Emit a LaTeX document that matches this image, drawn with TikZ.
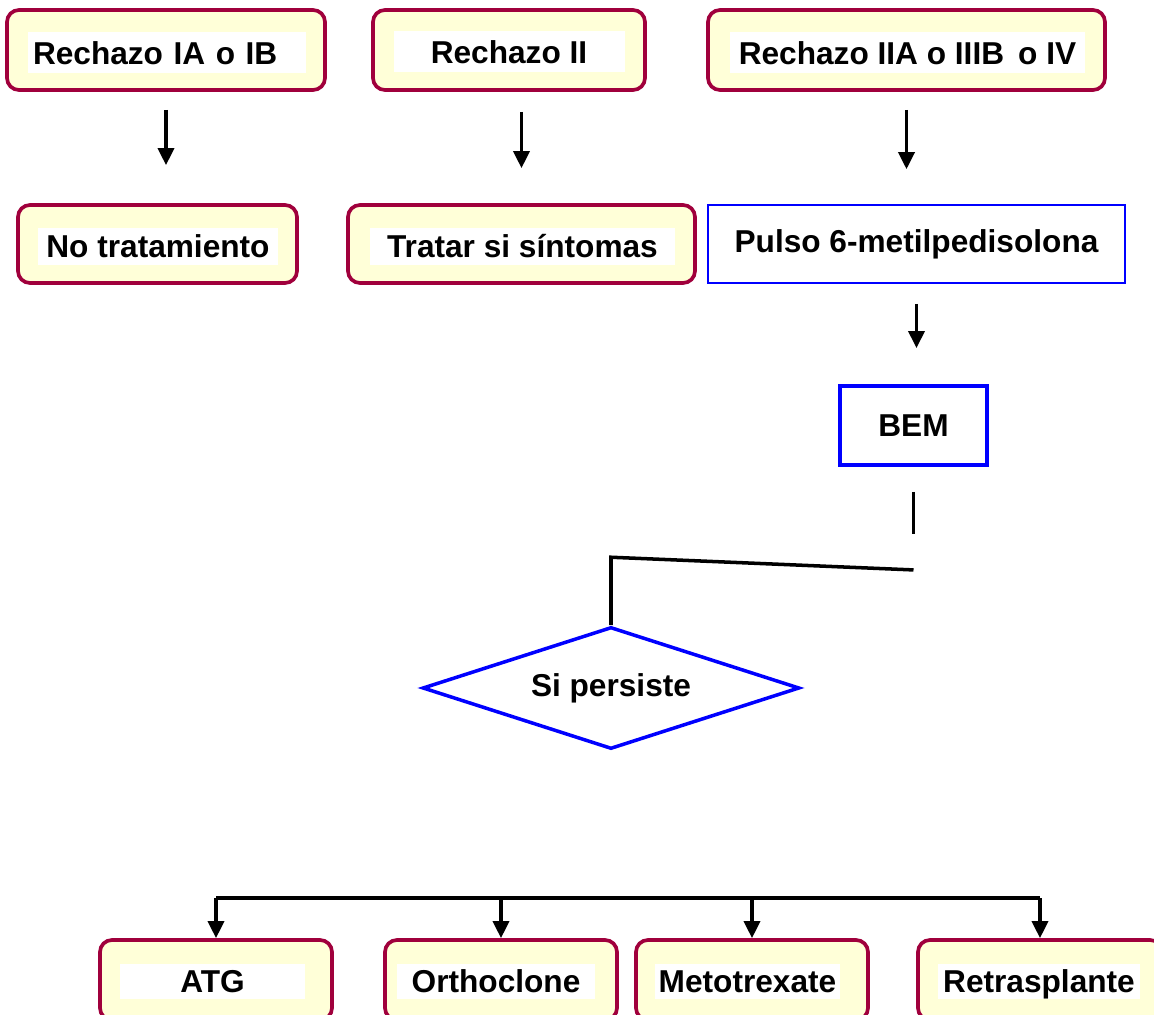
\documentclass[tikz,border=0pt]{standalone}
\usepackage{fontspec}
\setmainfont{Liberation Sans}
\usepackage{tikz}
\usetikzlibrary{arrows.meta,positioning,shapes.geometric}
\definecolor{rejMaroon}{HTML}{A0003C}
\definecolor{paleYellow}{HTML}{FFFFD8}
\definecolor{flowBlue}{HTML}{0000FF}

\begin{document}
\begin{tikzpicture}[
        yellowbox/.style={draw=rejMaroon, line width=2.1pt, rounded corners=0.24cm, fill=paleYellow,
                          minimum height=1.6cm, inner sep=0pt},
        tagtext/.style={fill=white, inner sep=0pt, minimum height=0.82cm,
                        font=\bfseries\fontsize{18}{21}\selectfont},
        thinblue/.style={draw=flowBlue, line width=0.9pt, minimum height=1.56cm,
                         font=\bfseries\fontsize{18}{21}\selectfont},
        thickblue/.style={draw=flowBlue, line width=2.2pt, minimum height=1.58cm,
                          font=\bfseries\fontsize{18}{21}\selectfont},
        decision/.style={diamond, draw=flowBlue, line width=2pt, aspect=3.1, inner sep=0pt,
                         minimum width=7.54cm, minimum height=2.44cm,
                         font=\bfseries\fontsize{18}{21}\selectfont},
        arr/.style={-{Triangle[length=0.34cm, width=0.32cm]}, line width=2pt},
        ln/.style={line width=2pt}
    ]
        \useasboundingbox (0,0) rectangle (23.08,-20.3);
        \clip (0,0) rectangle (23.08,-20.3);

        % rechazo grades
        \node[yellowbox, minimum width=6.36cm] (rech1) at (3.32,-1.0) {};
        \node[tagtext, text width=5.36cm, align=left, inner xsep=0.1cm] (rech1txt) at (3.34,-1.06) {Rechazo IA o IB};
        \node[yellowbox, minimum width=5.44cm] (rech2) at (10.18,-1.0) {};
        \node[tagtext, minimum width=4.62cm] (rech2txt) at (10.18,-1.04) {Rechazo II};
        \node[yellowbox, minimum width=7.94cm] (rech3) at (18.13,-1.0) {};
        \node[tagtext, minimum width=7.1cm] (rech3txt) at (18.15,-1.06) {Rechazo IIA o IIIB\, o IV};

        % treatment
        \node[yellowbox, minimum width=5.58cm, minimum height=1.56cm] (notrat) at (3.15,-4.88) {};
        \node[tagtext, minimum width=4.8cm, minimum height=0.74cm] (notrattxt) at (3.16,-4.93) {No tratamiento};
        \node[yellowbox, minimum width=6.94cm, minimum height=1.56cm] (tratar) at (10.43,-4.88) {};
        \node[tagtext, minimum width=6.1cm, minimum height=0.74cm] (tratartxt) at (10.45,-4.93) {Tratar si síntomas};
        \node[thinblue, minimum width=8.34cm] (pulso) at (18.33,-4.88) {Pulso 6-metilpedisolona};

        \node[thickblue, minimum width=2.94cm] (bem) at (18.27,-8.51) {BEM};
        \node[decision] (persiste) at (12.22,-13.76) {Si persiste};

        % options
        \node[yellowbox, minimum width=4.64cm] (atg) at (4.32,-19.6) {};
        \node[tagtext, minimum width=3.7cm, minimum height=0.7cm] (atgtxt) at (4.25,-19.63) {ATG};
        \node[yellowbox, minimum width=4.64cm] (ortho) at (10.02,-19.6) {};
        \node[tagtext, minimum width=3.96cm, minimum height=0.7cm] (orthotxt) at (9.92,-19.63) {Orthoclone};
        \node[yellowbox, minimum width=4.64cm] (meto) at (15.04,-19.6) {};
        \node[tagtext, minimum width=3.7cm, minimum height=0.7cm] (metotxt) at (14.95,-19.63) {Metotrexate};
        \node[yellowbox, minimum width=4.88cm] (retras) at (20.8,-19.6) {};
        \node[tagtext, minimum width=4.04cm, minimum height=0.7cm, text depth=0pt] (retrastxt) at (20.78,-19.63) {Retrasplante};

        \coordinate[below=1.34cm of bem.south] (bemend);
        \coordinate[below=0.72cm of bemend] (joint);
        \coordinate[above=1.36cm of persiste.north] (bend);
        \coordinate (bus) at (4.38,-17.96);

        \draw[arr, shorten <=0.36cm, shorten >=0.76cm] (rech1.south) -- (rech1.south |- notrat.north);
        \draw[arr, shorten <=0.4cm, shorten >=0.7cm] (tratar.north |- rech2.south) -- (tratar.north);
        \draw[arr, shorten <=0.36cm, shorten >=0.7cm] (rech3.south) -- (rech3.south |- pulso.north);
        \draw[arr, shorten <=0.4cm, shorten >=0.72cm] (pulso.south) -- (pulso.south |- bem.north);
        \draw[ln, shorten <=0.5cm] (bem.south) -- (bemend);
        \draw[ln] (joint) -- (bend) -- (persiste.north);

        \draw[ln] (atg.north |- bus) -- (retras.north |- bus);
        \draw[arr] (atg.north |- bus) -- (atg.north);
        \draw[arr] (ortho.north |- bus) -- (ortho.north);
        \draw[arr] (meto.north |- bus) -- (meto.north);
        \draw[arr] (retras.north |- bus) -- (retras.north);
    \end{tikzpicture}
\end{document}
